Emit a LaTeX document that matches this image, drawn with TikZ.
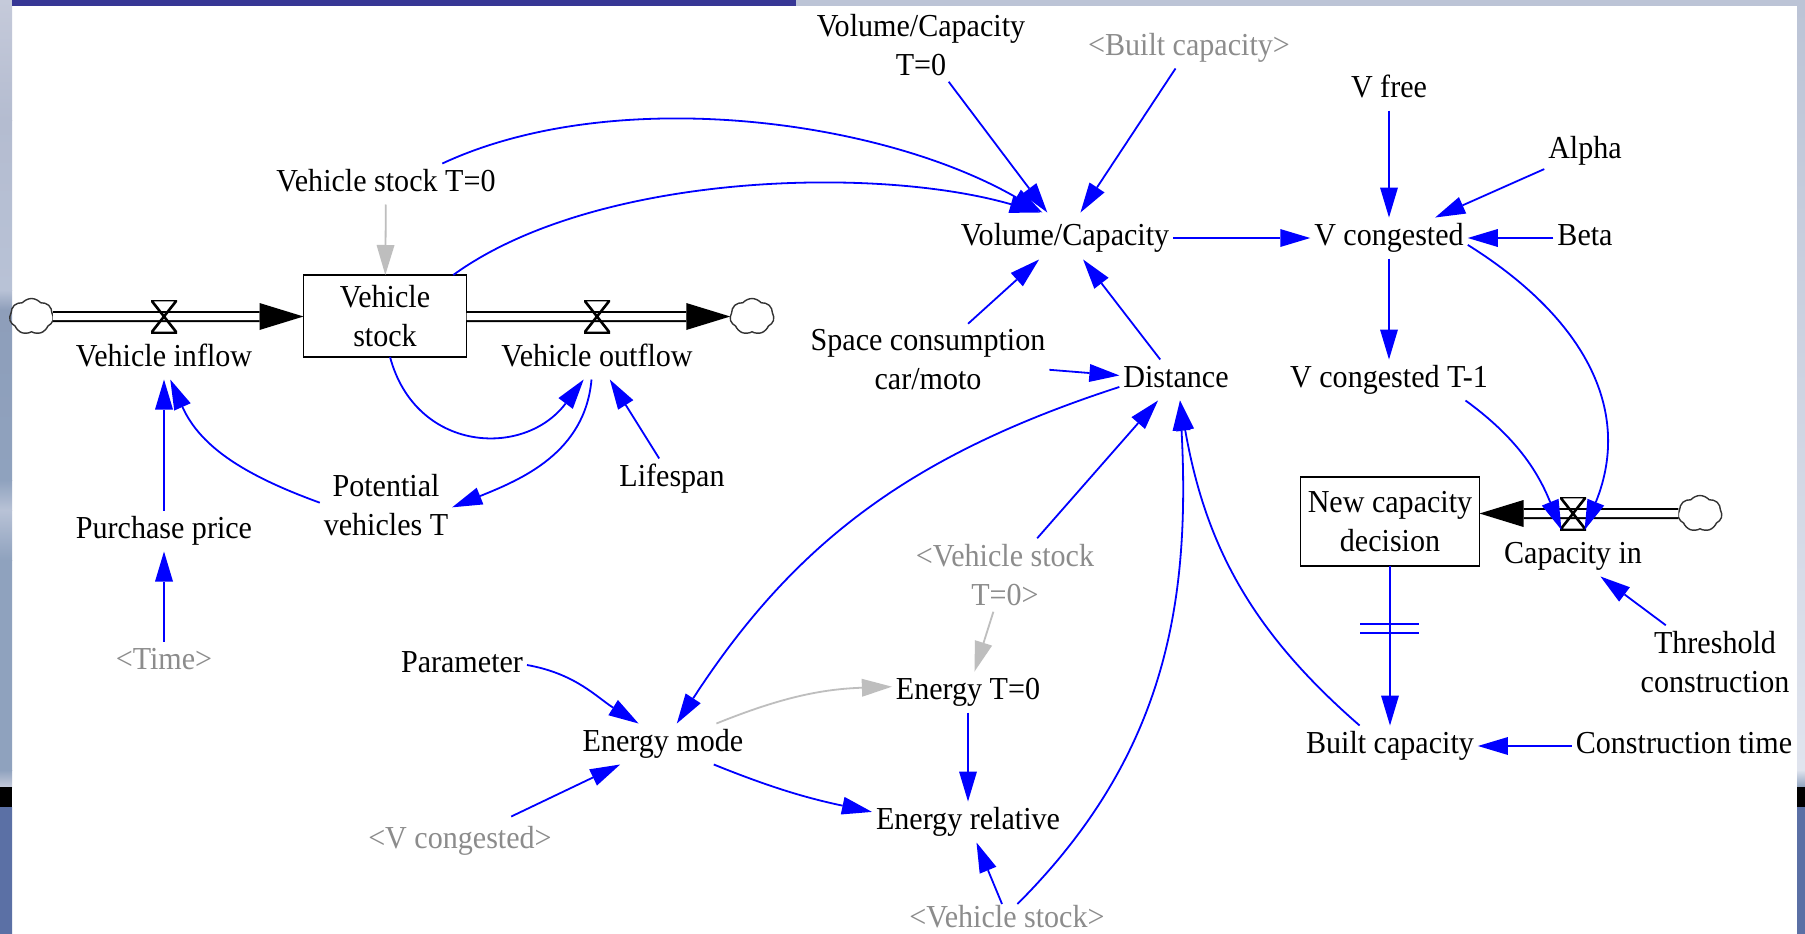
\documentclass[tikz,border=0pt]{standalone}
\usepackage{fontspec}
\setmainfont[FakeStretch=0.94]{Liberation Serif}
\usetikzlibrary{arrows.meta, shapes.symbols}
\definecolor{causeblue}{HTML}{0000FF}
\definecolor{causegray}{HTML}{BEBEBE}
\definecolor{shadowtext}{HTML}{8C8C8C}
\definecolor{barblue}{HTML}{373795}
\definecolor{barlight}{HTML}{BCC4D6}
\definecolor{slidea}{HTML}{C5CADA}
\definecolor{slideb}{HTML}{B4BCD0}
\definecolor{slidec}{HTML}{8E9EBA}
\definecolor{slided}{HTML}{B8C2D6}
\definecolor{slidee}{HTML}{8FA2BE}
\definecolor{slidef}{HTML}{E0E4EE}
\definecolor{slideg}{HTML}{5B70A5}
\tikzset{
  txt/.style={font=\fontsize{32}{39}\selectfont},
  lab/.style={txt, inner xsep=4pt, inner ysep=6pt, outer sep=0pt, text height=22pt, text depth=7pt},
  labtwo/.style={txt, inner xsep=4pt, inner ysep=6pt, outer sep=0pt, align=center},
  shadowvar/.style={text=shadowtext},
  levelbox/.style={txt, draw=black, line width=1.8pt, inner sep=0pt, outer sep=0pt, align=center},
  valvebox/.style={minimum width=26pt, minimum height=33pt, inner sep=0pt, outer sep=0pt,
    path picture={\draw[black, line width=2.6pt]
      (path picture bounding box.north west) -- (path picture bounding box.north east)
      -- (path picture bounding box.south west) -- (path picture bounding box.south east) -- cycle;}},
  cloudbox/.style={cloud, cloud puffs=7, cloud puff arc=100, aspect=1.2, draw=black!80, line width=1.4pt,
    minimum width=44pt, minimum height=36pt, inner sep=0pt, outer sep=0pt},
  pipe/.style={draw=black, line width=2pt, double=white, double distance=7pt,
    -{Triangle[length=44pt,width=27pt,line width=0pt,fill=black]}},
  cause/.style={draw=causeblue, line width=1.8pt,
    -{Triangle[length=30pt,width=18pt,line width=0pt,fill=causeblue]}},
  causegrey/.style={draw=causegray, line width=1.8pt,
    -{Triangle[length=30pt,width=18pt,line width=0pt,fill=causegray]}}
}
\begin{document}
\begin{tikzpicture}[x=1pt,y=-1pt]
\useasboundingbox (0,0) rectangle (1805,934);
% slide behind the diagram
\fill[white] (0,0) rectangle (1805,934);
\foreach \ya/\yb/\ca/\cb in {0/120/slidea/slideb, 120/290/slideb/slided, 290/310/slided/slidec,
  310/480/slidec/slidee, 480/510/slidee/slided, 510/560/slided/slidee, 560/770/slidee/slidee,
  770/787/slidee/slidea, 807/934/slideg/slideg}{
  \shade[top color=\ca, bottom color=\cb] (0,\ya) rectangle (12,\yb);
}
\foreach \ya/\yb/\ca/\cb in {6/770/barlight/slidef, 770/787/slidef/slidee, 807/934/slideg/slideg}{
  \shade[top color=\ca, bottom color=\cb] (1797,\ya) rectangle (1805,\yb);
}
\fill[black] (0,787) rectangle (12,807);
\fill[black] (1797,787) rectangle (1805,807);
\fill[barblue] (12,0) rectangle (796,6);
\fill[barlight] (796,0) rectangle (1805,6);
% variables
\node[labtwo] (vczero) at (921,45) {Volume/Capacity\\T=0};
\node[lab,shadowvar] (builtsh) at (1189,48) {<Built capacity>};
\node[lab] (vfree) at (1389,90) {V free};
\node[lab] (alpha) at (1585,151) {Alpha};
\node[lab] (vszero) at (386,184) {Vehicle stock T=0};
\node[lab,text height=27pt,text depth=8pt] (vc) at (1065,236) {Volume/Capacity};
\node[lab] (vcong) at (1389,238) {V congested};
\node[lab] (beta) at (1585,238) {Beta};
\node[levelbox, minimum width=163pt, minimum height=82pt] (stock) at (385,316) {Vehicle\\stock};
\node[lab] (vin) at (164,359) {Vehicle inflow};
\node[lab] (vout) at (597,359) {Vehicle outflow};
\node[labtwo] (space) at (928,360) {Space consumption\\car/moto};
\node[lab] (dist) at (1176,380) {Distance};
\node[lab] (vtone) at (1389,380) {V congested T-1};
\node[labtwo] (pot) at (386,505) {Potential\\vehicles T};
\node[lab] (life) at (672,479) {Lifespan};
\node[lab] (price) at (164,531) {Purchase price};
\node[levelbox, minimum width=179pt, minimum height=89pt] (ncd) at (1390,521.5) {New capacity\\decision};
\node[lab] (capin) at (1573,556) {Capacity in};
\node[labtwo] (thres) at (1715,662) {Threshold\\construction};
\node[lab] (built) at (1390,746) {Built capacity};
\node[lab] (ctime) at (1684,746) {Construction time};
\node[labtwo,shadowvar] (vszerosh) at (1005,575) {<Vehicle stock\\T=0>};
\node[lab,shadowvar] (timesh) at (164,662) {<Time>};
\node[lab] (par) at (462,665) {Parameter};
\node[lab] (ezero) at (968,692) {Energy T=0};
\node[lab] (emode) at (663,744) {Energy mode};
\node[lab] (erel) at (968,822) {Energy relative};
\node[lab,shadowvar,inner ysep=10pt] (vcongsh) at (460,841) {<V congested>};
\node[lab,shadowvar,inner ysep=1pt,text depth=0pt] (stocksh) at (1007,916) {<Vehicle stock>};
% flows
\node[cloudbox] (cloudin) at (31.5,316.5) {};
\node[cloudbox] (cloudout) at (752,316.5) {};
\node[cloudbox] (cloudcap) at (1700,513.5) {};
\draw[pipe] (cloudin) -- (stock.west |- cloudin);
\draw[pipe] (stock.east |- cloudout) -- (cloudout);
\draw[pipe] (cloudcap) -- (ncd.east |- cloudcap);
\node[valvebox] (valvein) at (164,316.5) {};
\node[valvebox] (valveout) at (597,316.5) {};
\node[valvebox] (valvecap) at (1573,513.5) {};
% straight links
\draw[causegrey] (vszero) -- (stock);
\draw[cause] (vczero) -- (vc);
\draw[cause] (builtsh) -- (vc);
\draw[cause] (space) -- (vc);
\draw[cause] (dist) -- (vc);
\draw[cause] (vc.east |- vcong) -- (vcong);
\draw[cause] (vfree) -- (vcong);
\draw[cause] (alpha) -- (vcong);
\draw[cause] (beta) -- (vcong);
\draw[cause] (vcong) -- (vtone);
\draw[cause] (space) -- (dist);
\draw[cause] (life) -- (vout);
\draw[cause] (price) -- (vin);
\draw[cause] (timesh) -- (price);
\draw[cause] (vszerosh) -- (dist);
\draw[causegrey] (vszerosh) -- (ezero);
\draw[cause] (ezero) -- (erel);
\draw[cause] (stocksh) -- (erel);
\draw[cause] (vcongsh) -- (emode);
\draw[cause] (thres) -- (capin);
\draw[cause] (ctime) -- (built);
\draw[cause] (ncd) -- (built);
\foreach \y in {624,633}{
  \draw[causeblue, line width=1.8pt] (1360,\y) -- (1419,\y);
}
% curved links
\draw[cause] (vszero.20) to[out=25,in=150,looseness=0.8] (vc.134);
\draw[cause] (stock.31.5) to[out=36,in=164,looseness=0.75] (vc.137);
\draw[cause] (stock.-83) to[out=-75,in=233,looseness=1.3] (vout.-123);
\draw[cause] (vout.-105) to[out=-95,in=22] (pot.-2);
\draw[cause] (pot.178) to[out=160,in=-66] (vin.-73);
\draw[cause] (vcong.-5) to[out=-32,in=68,looseness=1.1] (valvecap.-55);
\draw[cause] (vtone.-15.5) to[out=-36,in=112] (valvecap.-125);
\draw[cause] (built.146) to[out=139,in=-80] (dist.-79);
\draw[cause] (stocksh.49) to[out=45,in=-87] (dist.-79);
\draw[cause] (dist.187) to[out=198,in=57] (emode.56);
\draw[cause] (par.east) to[out=-10,in=148] (emode.140);
\draw[cause] (emode.-22) to[out=-22,in=168] (erel.174);
\draw[causegrey] (emode.21) to[out=22,in=182] (ezero.176);
\end{tikzpicture}
\end{document}
